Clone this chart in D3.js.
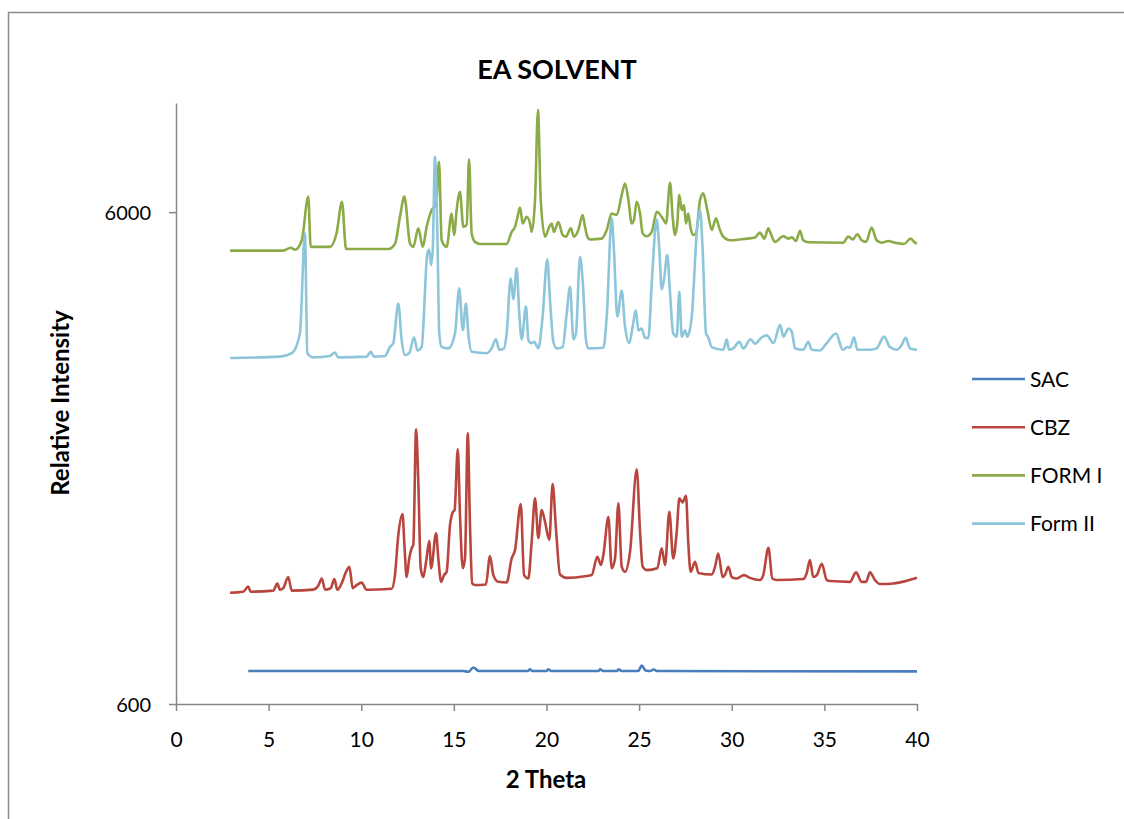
<!DOCTYPE html>
<html lang="en">
<head>
    <meta charset="UTF-8">
    <title>EA SOLVENT</title>
    <script src="https://cdn.jsdelivr.net/npm/d3@7"></script>
    <style>
        body {
            margin: 0;
            background: #ffffff;
        }

        text {
            font-family: Lato, "Open Sans", sans-serif;
            fill: #000000;
        }

        .axis path, .axis line {
            stroke: #868686;
            stroke-width: 1.5px;
        }
    </style>
</head>
<body>
    <svg id="chart" width="1124" height="819"></svg>

    <script>
        // 2 theta / intensity pairs
        let sac = [[3.9,700],[15.5,700],[15.8,698],[16.05,712],[16.35,700],[19.0,700],[19.1,706],[19.25,700],[20.0,700],[20.1,706],[20.25,700],[22.8,700],[22.9,706],[23.05,700],[23.8,700],[23.9,706],[24.05,700],[24.95,700],[25.14,718],[25.35,702],[25.6,700],[25.77,705],[26.0,700],[40.0,699]];

        let cbz = [[2.92,1010],[3.63,1015],[3.90,1040],[4.03,1015],[5.25,1020],[5.47,1055],[5.61,1024],[5.79,1032],[6.06,1087],[6.25,1020],[7.41,1025],[7.68,1044],[7.87,1080],[8.05,1024],[8.35,1032],[8.55,1077],[8.71,1024],[8.94,1055],[9.18,1114],[9.36,1140],[9.54,1032],[9.75,1047],[10.02,1059],[10.29,1024],[11.64,1029],[11.82,1097],[12.0,1323],[12.23,1460],[12.32,1283],[12.36,1205],[12.45,1087],[12.59,1186],[12.72,1244],[12.81,1263],[12.96,2170],[13.08,1700],[13.21,1133],[13.35,1087],[13.50,1168],[13.67,1287],[13.77,1133],[14.04,1334],[14.16,1186],[14.31,1063],[14.47,1097],[14.61,1114],[14.79,1386],[14.94,1472],[15.04,1488],[15.21,1980],[15.33,1453],[15.48,1133],[15.60,1186],[15.75,2130],[15.87,1386],[15.99,1055],[16.14,1047],[16.73,1050],[16.95,1200],[17.13,1097],[17.40,1063],[17.85,1060],[18.12,1186],[18.30,1233],[18.61,1530],[18.79,1097],[19.02,1080],[19.20,1283],[19.38,1571],[19.56,1305],[19.74,1488],[19.92,1408],[20.15,1293],[20.33,1680],[20.51,1365],[20.73,1100],[21.09,1083],[22.08,1091],[22.44,1097],[22.74,1195],[22.94,1150],[23.07,1205],[23.34,1440],[23.52,1133],[23.70,1186],[23.88,1535],[24.06,1141],[24.24,1114],[24.51,1224],[24.87,1800],[25.05,1343],[25.19,1141],[25.41,1123],[25.98,1133],[26.22,1244],[26.40,1150],[26.63,1476],[26.84,1186],[27.03,1343],[27.17,1571],[27.35,1542],[27.53,1590],[27.65,1283],[27.78,1114],[28.02,1168],[28.20,1108],[28.92,1100],[29.10,1141],[29.27,1214],[29.51,1087],[29.64,1100],[29.82,1141],[30.0,1087],[30.27,1080],[30.66,1097],[30.98,1083],[31.52,1072],[31.70,1097],[31.98,1247],[32.19,1080],[32.43,1072],[33.86,1077],[34.04,1105],[34.22,1177],[34.40,1087],[34.59,1097],[34.86,1157],[35.13,1072],[35.31,1067],[36.38,1063],[36.71,1111],[37.01,1063],[37.25,1063],[37.46,1111],[37.73,1072],[38.0,1052],[38.72,1055],[39.44,1068],[40.0,1083]];

        let form1 = [[2.92,5010],[5.79,5010],[6.19,5080],[6.42,5030],[6.79,5260],[7.14,6450],[7.27,5100],[8.31,5100],[8.67,5440],[8.96,6300],[9.18,5050],[11.46,5050],[11.82,5170],[12.09,5870],[12.33,6450],[12.63,5180],[12.81,5100],[13.08,5560],[13.32,5100],[13.53,5600],[13.80,6060],[14.04,6200],[14.20,7590],[14.34,5260],[14.61,5100],[14.88,5960],[15.01,5390],[15.15,6060],[15.33,6600],[15.51,5600],[15.69,5650],[15.82,7680],[15.96,5430],[16.14,5220],[16.41,5170],[17.85,5170],[18.12,5470],[18.30,5600],[18.42,5830],[18.57,6130],[18.72,5690],[18.93,5870],[19.11,5690],[19.20,5470],[19.38,6350],[19.54,9670],[19.69,6350],[19.92,5350],[20.15,5600],[20.28,5690],[20.40,5470],[20.64,5730],[20.87,5390],[21.05,5350],[21.31,5560],[21.48,5350],[21.72,5520],[21.95,5920],[22.08,5600],[22.20,5350],[22.35,5280],[22.98,5300],[23.25,5520],[23.52,5960],[23.79,5920],[24.06,6500],[24.24,6860],[24.42,6350],[24.60,5690],[24.72,5780],[24.87,6300],[25.05,5960],[25.19,5430],[25.41,5360],[25.68,5470],[25.95,6010],[26.27,5830],[26.45,5690],[26.67,6880],[26.81,5870],[26.94,5390],[27.06,5690],[27.17,6500],[27.30,6060],[27.42,6200],[27.53,5690],[27.65,5960],[27.78,5560],[27.92,5390],[28.07,5430],[28.29,6350],[28.46,6550],[28.68,6060],[28.92,5520],[29.15,5830],[29.33,5560],[29.54,5350],[29.91,5260],[30.81,5300],[31.26,5330],[31.52,5450],[31.76,5300],[31.97,5560],[32.10,5430],[32.33,5220],[32.78,5360],[33.05,5300],[33.24,5330],[33.47,5240],[33.68,5500],[33.86,5260],[34.13,5210],[36.02,5200],[36.29,5350],[36.53,5280],[36.78,5410],[37.01,5260],[37.25,5220],[37.55,5580],[37.82,5260],[38.09,5200],[38.45,5240],[38.81,5200],[39.30,5170],[39.66,5300],[39.89,5200],[40.0,5180]];

        let form2 = [[2.92,3030],[5.61,3050],[6.25,3100],[6.69,3400],[6.96,5440],[7.09,3100],[7.41,3040],[8.31,3060],[8.58,3110],[8.76,3040],[10.29,3050],[10.51,3120],[10.69,3050],[11.28,3060],[11.55,3190],[11.73,3250],[12.0,3910],[12.18,3300],[12.36,3070],[12.59,3100],[12.85,3340],[13.03,3140],[13.26,3190],[13.57,4950],[13.67,5030],[13.77,4680],[13.86,5030],[13.98,7770],[14.11,5430],[14.21,3400],[14.34,3190],[14.70,3170],[15.06,3400],[15.29,4200],[15.48,3450],[15.65,3910],[15.78,3400],[15.96,3120],[16.77,3100],[17.04,3170],[17.27,3310],[17.45,3150],[17.71,3170],[17.85,3400],[18.07,4400],[18.21,3990],[18.39,4610],[18.53,3730],[18.66,3310],[18.89,3860],[19.02,3300],[19.20,3250],[19.33,3270],[19.56,3170],[19.79,3680],[20.04,4810],[20.19,3970],[20.37,3270],[20.55,3170],[20.87,3190],[21.09,3730],[21.27,4230],[21.45,3310],[21.59,3400],[21.81,4870],[21.97,4260],[22.13,3300],[22.26,3170],[23.07,3180],[23.25,3680],[23.52,5830],[23.64,5030],[23.82,3680],[24.06,4150],[24.24,3510],[24.47,3250],[24.65,3510],[24.82,3790],[24.96,3450],[25.14,3480],[25.32,3330],[25.50,3330],[25.68,4300],[25.95,5800],[26.09,5030],[26.22,4180],[26.34,4370],[26.52,4910],[26.67,4100],[26.84,3400],[27.03,3350],[27.17,4130],[27.30,3350],[27.48,3450],[27.60,3350],[27.84,3680],[28.11,5430],[28.29,6060],[28.43,5030],[28.61,3400],[28.73,3340],[28.92,3190],[29.54,3150],[29.73,3310],[29.85,3150],[30.08,3170],[30.41,3270],[30.62,3170],[31.02,3310],[31.26,3240],[31.62,3340],[31.89,3370],[32.25,3250],[32.61,3540],[32.79,3350],[33.06,3480],[33.24,3430],[33.42,3170],[33.86,3150],[34.13,3270],[34.32,3150],[34.76,3140],[35.13,3250],[35.63,3400],[35.99,3150],[36.24,3190],[36.38,3180],[36.60,3340],[36.78,3150],[37.46,3150],[37.82,3170],[38.22,3350],[38.54,3190],[38.90,3150],[39.17,3220],[39.39,3330],[39.62,3170],[40.0,3150]];

        let seriesNames = ["SAC", "CBZ", "FORM I", "Form II"];
        let seriesColors = ["#4A7EBB", "#B8463F", "#8AAB48", "#8DC5DA"];
        let xTicks = [0, 5, 10, 15, 20, 25, 30, 35, 40];
        let yTicks = [600, 6000];

        let svg = d3.select("#chart");

        // outer chart frame
        svg.append("rect")
            .attr("x", 8.5)
            .attr("y", 12.5)
            .attr("width", 1130)
            .attr("height", 830)
            .attr("fill", "none")
            .attr("stroke", "#8c8c8c")
            .attr("stroke-width", 1.5);

        let x = d3.scaleLinear().domain([0, 40]).range([176, 917]);
        let y = d3.scaleLog().domain([600, 10000]).range([704, 103]);

        let xAxis = svg.append("g")
            .attr("class", "axis")
            .attr("transform", "translate(0,704)")
            .call(d3.axisBottom(x).tickValues(xTicks).tickSize(7).tickSizeOuter(0).tickFormat(d3.format("d")));

        let yAxis = svg.append("g")
            .attr("class", "axis")
            .attr("transform", "translate(176,0)")
            .call(d3.axisLeft(y).tickValues(yTicks).tickSize(7).tickSizeOuter(0).tickFormat(d3.format("d")));

        xAxis.selectAll("text")
            .attr("dy", null)
            .attr("y", 43)
            .style("font-size", "21px");

        yAxis.selectAll("text")
            .attr("x", -25)
            .attr("dy", "0.35em")
            .style("font-size", "20px");

        let line = d3.line()
            .x(d => x(d[0]))
            .y(d => y(d[1]))
            .curve(d3.curveMonotoneX);

        let allSeries = [sac, cbz, form1, form2];

        svg.append("g")
            .selectAll("path")
            .data(allSeries)
            .join("path")
            .attr("d", d => line(d))
            .attr("fill", "none")
            .attr("stroke", (d, i) => seriesColors[i])
            .attr("stroke-width", 2.6)
            .attr("stroke-linejoin", "round");

        // titles
        svg.append("text")
            .attr("x", 557)
            .attr("y", 79)
            .attr("text-anchor", "middle")
            .style("font-size", "27px")
            .style("font-weight", "bold")
            .text("EA SOLVENT");

        svg.append("text")
            .attr("x", 546)
            .attr("y", 788)
            .attr("text-anchor", "middle")
            .style("font-size", "24px")
            .style("font-weight", "bold")
            .text("2 Theta");

        svg.append("text")
            .attr("transform", "translate(69,403) rotate(-90)")
            .attr("text-anchor", "middle")
            .style("font-size", "24px")
            .style("font-weight", "bold")
            .text("Relative Intensity");

        // legend
        let legend = svg.append("g")
            .selectAll("g")
            .data(seriesNames)
            .join("g")
            .attr("transform", (d, i) => "translate(972," + (379 + i * 48.2) + ")");

        legend.append("line")
            .attr("x1", 0)
            .attr("x2", 53)
            .attr("stroke", (d, i) => seriesColors[i])
            .attr("stroke-width", 2.6);

        legend.append("text")
            .attr("x", 58)
            .attr("dy", "0.36em")
            .style("font-size", "21px")
            .text(d => d);
    </script>
</body>
</html>
